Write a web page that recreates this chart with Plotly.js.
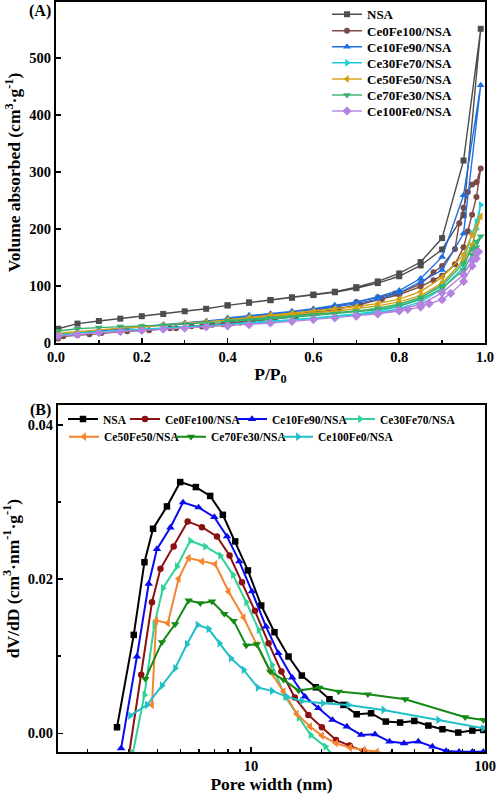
<!DOCTYPE html>
<html>
<head>
<meta charset="utf-8">
<script src="https://cdn.plot.ly/plotly-3.0.1.min.js"></script>
<style>html,body{margin:0;padding:0;background:#fff;}#chart{width:496px;height:795px;}</style>
</head>
<body>
<div id="chart"></div>
<script>
// ---------- DATA ----------
const seriesNames = ['NSA', 'Ce0Fe100/NSA', 'Ce10Fe90/NSA', 'Ce30Fe70/NSA', 'Ce50Fe50/NSA', 'Ce70Fe30/NSA', 'Ce100Fe0/NSA'];

// (A) N2 isotherms: adsorption branch followed by desorption branch
const isoP_NSA = [0.005, 0.05, 0.1, 0.15, 0.2, 0.25, 0.3, 0.35, 0.4, 0.45, 0.5, 0.55, 0.6, 0.65, 0.7, 0.75, 0.8, 0.85, 0.9, 0.95, 0.99,
                  0.95, 0.9, 0.85, 0.8, 0.75, 0.7, 0.65, 0.6, 0.55, 0.5, 0.45, 0.4];
const isoV_NSA = [25, 34, 38.6, 42.7, 47, 51, 55.6, 60, 66, 70.8, 75, 79.5, 84, 89, 96, 105, 117, 136, 164, 224, 551,
                  320, 184, 142, 122, 108, 98, 90, 85, 80, 75.5, 71, 66];

const isoP_Ce0Fe100 = [0.005, 0.017, 0.05, 0.078, 0.106, 0.166, 0.217, 0.266, 0.316, 0.364, 0.412, 0.46, 0.51, 0.56, 0.61, 0.66, 0.71, 0.76, 0.8, 0.85, 0.88, 0.9, 0.93, 0.95, 0.96, 0.97, 0.98, 0.99,
                       0.98, 0.97, 0.96, 0.95, 0.94, 0.93, 0.9, 0.88, 0.85, 0.8, 0.79, 0.75, 0.7, 0.65, 0.6, 0.55, 0.5, 0.45, 0.43, 0.39, 0.34, 0.28];
const isoV_Ce0Fe100 = [7.7, 11.8, 13.5, 15.3, 17.6, 20.5, 22.3, 25.8, 29.3, 32.2, 35.1, 38.5, 42, 47, 53, 60, 68, 77, 85, 99, 110, 118, 138, 168, 196, 225, 256, 306,
                       282, 278, 265, 237, 210, 165, 135, 124, 103, 88, 87, 80, 72, 64, 55, 48, 43, 39, 36, 33, 29, 26];

const isoP_Ce10Fe90 = [0.005, 0.05, 0.1, 0.15, 0.2, 0.25, 0.3, 0.35, 0.4, 0.45, 0.5, 0.55, 0.6, 0.65, 0.7, 0.75, 0.8, 0.85, 0.9, 0.95, 0.99,
                       0.95, 0.9, 0.85, 0.8, 0.75, 0.7, 0.65, 0.6, 0.55, 0.5, 0.45, 0.4];
const isoV_Ce10Fe90 = [14, 18, 21, 25, 28, 32, 35, 38, 42, 46, 50, 54, 58, 63, 69, 77, 88, 107, 128, 192, 452,
                       259, 151, 113, 92, 81, 72, 66, 60, 55.5, 51.5, 48.5, 44];

const isoP_Ce30Fe70 = [0.005, 0.05, 0.1, 0.15, 0.2, 0.25, 0.3, 0.35, 0.4, 0.45, 0.5, 0.55, 0.6, 0.65, 0.7, 0.75, 0.8, 0.85, 0.9, 0.95, 0.97, 0.98, 0.99,
                       0.98, 0.97, 0.95, 0.9, 0.85, 0.8, 0.75, 0.7, 0.65, 0.6, 0.55, 0.5, 0.45, 0.4];
const isoV_Ce30Fe70 = [14, 18, 20, 22, 24, 26, 28, 30, 32, 35, 37, 40, 43, 46, 49, 53, 60, 72, 95, 133, 170, 200, 242,
                       212, 192, 145, 104, 78, 64, 56, 51, 47, 44, 41, 38, 35, 33];

const isoP_Ce50Fe50 = [0.005, 0.05, 0.1, 0.15, 0.2, 0.25, 0.3, 0.35, 0.4, 0.45, 0.5, 0.55, 0.6, 0.65, 0.7, 0.75, 0.8, 0.85, 0.9, 0.95, 0.97, 0.99,
                       0.97, 0.95, 0.9, 0.85, 0.8, 0.75, 0.7, 0.65, 0.6, 0.55, 0.5, 0.45, 0.4];
const isoV_Ce50Fe50 = [17, 20, 23, 26, 28, 31, 34, 37, 40, 43, 46, 49, 52, 56, 60, 65, 72, 83, 105, 145, 172, 222,
                       190, 155, 115, 90, 77, 69, 64, 60, 56, 52, 49, 45, 41];

const isoP_Ce70Fe30 = [0.005, 0.05, 0.1, 0.15, 0.2, 0.25, 0.3, 0.35, 0.4, 0.45, 0.5, 0.55, 0.6, 0.65, 0.7, 0.75, 0.8, 0.85, 0.9, 0.95, 0.97, 0.98, 0.99,
                       0.98, 0.97, 0.95, 0.9, 0.85, 0.8, 0.75, 0.7, 0.6, 0.5, 0.4];
const isoV_Ce70Fe30 = [21, 25, 27, 29, 30, 31, 33, 35, 37, 40, 42, 45, 48, 51, 54, 58, 65, 76, 96, 128, 155, 168, 187,
                       178, 165, 140, 100, 80, 68, 61, 56, 50, 44, 39];

const isoP_Ce100Fe0 = [0.005, 0.05, 0.1, 0.15, 0.2, 0.25, 0.3, 0.35, 0.4, 0.45, 0.5, 0.55, 0.6, 0.65, 0.7, 0.75, 0.8, 0.82, 0.85, 0.87, 0.9, 0.92, 0.95, 0.97, 0.98, 0.985,
                       0.98, 0.97, 0.95, 0.9, 0.85, 0.8, 0.75, 0.7];
const isoV_Ce100Fe0 = [12, 15, 18, 20, 22, 24, 26, 28, 30, 32, 35, 38, 41, 44, 47, 51, 56, 59, 63, 69, 76, 87, 108, 135, 148, 160,
                       158, 145, 120, 88, 68, 58, 52, 48];

// (B) BJH pore size distribution
const poreD_NSA = [2.68, 3.16, 3.51, 3.82, 4.38, 4.99, 5.82, 6.70, 7.59, 8.57, 9.71, 11.07, 12.61, 14.48, 16.51, 18.94, 21.66, 24.85, 28.3, 32.6, 37.7, 43.4, 49.9, 57.3, 65.8, 76.9, 88.3, 98.4];
const poreV_NSA = [0.00078, 0.01277, 0.0222, 0.02654, 0.02944, 0.0326, 0.03195, 0.0308, 0.02835, 0.0249, 0.02113, 0.01658, 0.01312, 0.00996, 0.00749, 0.00597, 0.00442, 0.00368, 0.00247, 0.0026, 0.00152, 0.00139, 0.0016, 0.001, 0.00052, 0.00009, 0.00035, 0.00043];

const poreD_Ce0Fe100 = [2.99, 3.40, 3.78, 4.11, 4.68, 5.37, 6.18, 7.16, 8.11, 9.16, 10.4, 11.9, 13.5, 15.4, 17.6, 20.1, 23.1, 26.4, 30.3, 34.5];
const poreV_Ce0Fe100 = [-0.0035, 0.00758, 0.017, 0.02134, 0.02424, 0.02749, 0.02675, 0.02554, 0.02307, 0.01961, 0.01589, 0.01169, 0.00801, 0.00463, 0.00238, 0.00078, -0.00087, -0.0016, -0.0023, -0.003];

const poreD_Ce10Fe90 = [2.79, 3.26, 3.66, 3.97, 4.53, 5.13, 5.98, 6.98, 7.91, 8.92, 10.1, 11.6, 13.1, 15.0, 17.0, 19.4, 22.3, 25.7, 29.6, 33.9, 39.1, 45.1, 51.9, 59.6, 68.2, 77.5, 88.3, 98.4];
const poreV_Ce10Fe90 = [-0.00195, 0.00996, 0.0194, 0.0239, 0.0267, 0.02996, 0.0293, 0.02805, 0.02554, 0.0223, 0.0184, 0.01385, 0.01039, 0.00723, 0.00476, 0.00325, 0.00173, 0.00087, -0.00022, -0.00013, -0.00108, -0.0013, -0.00108, -0.00173, -0.0023, -0.0024, -0.0024, -0.0024];

const poreD_Ce30Fe70 = [3.13, 3.51, 3.87, 4.21, 4.83, 5.51, 6.38, 7.40, 8.38, 9.55, 10.8, 12.3, 14.0, 16.0, 18.0, 20.8, 23.0];
const poreV_Ce30Fe70 = [-0.0026, 0.00498, 0.01407, 0.01883, 0.02165, 0.02498, 0.02424, 0.02307, 0.02056, 0.01701, 0.01342, 0.00887, 0.00476, 0.00203, -0.00022, -0.00173, -0.0032];

const poreD_Ce50Fe50 = [3.78, 3.94, 4.42, 4.91, 5.42, 6.18, 7.04, 8.03, 9.31, 10.6, 12.1, 13.8, 15.7, 17.9, 20.1, 23.1, 26.5, 30.3, 34.5, 39.0];
const poreV_Ce50Fe50 = [0.00368, 0.01463, 0.01429, 0.02004, 0.02273, 0.02229, 0.02195, 0.0184, 0.01502, 0.01147, 0.00801, 0.00541, 0.00251, 0.00087, -0.0003, -0.0013, -0.00186, -0.00216, -0.0024, -0.0028];

const poreD_Ce70Fe30 = [3.54, 4.17, 4.75, 5.42, 6.08, 6.82, 7.70, 8.44, 9.55, 10.6, 12.1, 13.8, 16.0, 19.6, 23.7, 31.6, 45.6, 82.3, 98.4];
const poreV_Ce70Fe30 = [0.00706, 0.01182, 0.01416, 0.01723, 0.01688, 0.0171, 0.0155, 0.01459, 0.01139, 0.01156, 0.00801, 0.00693, 0.00554, 0.00593, 0.00541, 0.00506, 0.00442, 0.00208, 0.00173];

const poreD_Ce100Fe0 = [3.05, 3.60, 4.17, 4.75, 5.33, 5.92, 6.59, 7.34, 8.22, 9.31, 10.7, 12.3, 14.2, 16.5, 20.3, 26.1, 36.8, 63.2, 98.4];
const poreV_Ce100Fe0 = [0.00229, 0.00368, 0.00619, 0.00844, 0.01156, 0.01407, 0.01355, 0.01169, 0.00974, 0.00823, 0.00593, 0.0055, 0.00476, 0.0042, 0.0039, 0.00368, 0.00303, 0.00173, 0.00065];

const isoX = [isoP_NSA, isoP_Ce0Fe100, isoP_Ce10Fe90, isoP_Ce30Fe70, isoP_Ce50Fe50, isoP_Ce70Fe30, isoP_Ce100Fe0];
const isoY = [isoV_NSA, isoV_Ce0Fe100, isoV_Ce10Fe90, isoV_Ce30Fe70, isoV_Ce50Fe50, isoV_Ce70Fe30, isoV_Ce100Fe0];
const poreX = [poreD_NSA, poreD_Ce0Fe100, poreD_Ce10Fe90, poreD_Ce30Fe70, poreD_Ce50Fe50, poreD_Ce70Fe30, poreD_Ce100Fe0];
const poreY = [poreV_NSA, poreV_Ce0Fe100, poreV_Ce10Fe90, poreV_Ce30Fe70, poreV_Ce50Fe50, poreV_Ce70Fe30, poreV_Ce100Fe0];

// ---------- STYLE ----------
const colorsA = ['#4d4d4d', '#7b4a46', '#1f6fe3', '#19cfd9', '#d4a010', '#38b06e', '#b483e0'];
const symbolsA = ['square', 'circle', 'triangle-up', 'triangle-right', 'triangle-left', 'triangle-down', 'diamond'];
const colorsB = ['#000000', '#8b1010', '#0a0af0', '#2fd39a', '#f5842e', '#168a16', '#22bfc9'];
const symbolsB = ['square', 'circle', 'triangle-up', 'triangle-right', 'triangle-left', 'triangle-down', 'triangle-right'];

const W = 496, H = 795;
const FONT = 'Liberation Serif, Times New Roman, serif';

// legend placements in pixels (text start x, item centre y)
const legA = [[367, 14.3], [367, 30.7], [367, 46.7], [367, 62.7], [367, 79], [367, 95], [367, 111]];
const legB = [[103, 419], [165, 419], [272, 419], [380, 419], [104, 436.7], [211, 436.7], [318, 436.7]];

const traces = [];
const layout = {
  width: W, height: H,
  margin: {l: 0, r: 0, t: 0, b: 0, autoexpand: false},
  paper_bgcolor: '#fff', plot_bgcolor: '#fff',
  font: {family: FONT, size: 14.5, color: '#000', weight: 'bold'},
  showlegend: true,
  xaxis: {
    domain: [56 / W, 485 / W], anchor: 'y', range: [0, 1], tick0: 0, dtick: 0.2, tickformat: '.1f',
    ticks: 'inside', ticklen: 5, tickwidth: 1.5, tickcolor: '#000',
    minor: {dtick: 0.1, ticks: 'inside', ticklen: 3, tickwidth: 1.5, tickcolor: '#000'},
    showline: true, mirror: true, linewidth: 2, linecolor: '#000', showgrid: false, zeroline: false,
    tickfont: {size: 14.5, family: FONT, weight: 'bold'},
    title: {text: 'P/P<sub>0</sub>', font: {size: 17.5, family: FONT, weight: 'bold'}, standoff: 3}
  },
  yaxis: {
    domain: [1 - 343 / H, 1 - 2 / H], anchor: 'x', range: [0, 598], tick0: 0, dtick: 100,
    ticks: 'inside', ticklen: 5, tickwidth: 1.5, tickcolor: '#000',
    showline: true, mirror: true, linewidth: 2, linecolor: '#000', showgrid: false, zeroline: false,
    tickfont: {size: 14.5, family: FONT, weight: 'bold'},
    title: {text: 'Volume absorbed (cm<sup>3</sup>·g<sup>-1</sup>)', font: {size: 17.5, family: FONT, weight: 'bold'}, standoff: 4}
  },
  xaxis2: {
    domain: [58 / W, 485 / W], anchor: 'y2', type: 'log', range: [Math.log10(1.5), 2],
    tickmode: 'array', tickvals: [10, 100], ticktext: ['10', '100'],
    ticks: 'inside', ticklen: 5, tickwidth: 1.5, tickcolor: '#000',
    minor: {tickmode: 'array', tickvals: [2, 3, 4, 5, 6, 7, 8, 9, 20, 30, 40, 50, 60, 70, 80, 90], ticks: 'inside', ticklen: 3, tickwidth: 1.5, tickcolor: '#000'},
    showline: true, mirror: true, linewidth: 2, linecolor: '#000', showgrid: false, zeroline: false,
    tickfont: {size: 14.5, family: FONT, weight: 'bold'},
    title: {text: 'Pore width (nm)', font: {size: 17.5, family: FONT, weight: 'bold'}, standoff: 3}
  },
  yaxis2: {
    domain: [1 - 752 / H, 1 - 405 / H], anchor: 'x2', range: [-0.00243, 0.0426], tick0: 0, dtick: 0.02, tickformat: '.2f',
    ticks: 'inside', ticklen: 5, tickwidth: 1.5, tickcolor: '#000',
    minor: {dtick: 0.01, ticks: 'inside', ticklen: 3, tickwidth: 1.5, tickcolor: '#000'},
    showline: true, mirror: true, linewidth: 2, linecolor: '#000', showgrid: false, zeroline: false,
    tickfont: {size: 14.5, family: FONT, weight: 'bold'},
    title: {text: 'dV/dD (cm<sup>3</sup>·nm<sup>-1</sup>·g<sup>-1</sup>)', font: {size: 17.5, family: FONT, weight: 'bold'}, standoff: 4}
  },
  annotations: [
    {text: '(A)', xref: 'paper', yref: 'paper', x: 53 / W, y: 1 - 11 / H, xanchor: 'right', yanchor: 'middle', showarrow: false,
     font: {size: 16, family: FONT, weight: 'bold'}},
    {text: '(B)', xref: 'paper', yref: 'paper', x: 53 / W, y: 1 - 410 / H, xanchor: 'right', yanchor: 'middle', showarrow: false,
     font: {size: 16, family: FONT, weight: 'bold'}}
  ]
};

function legendId(k) { return k === 0 ? 'legend' : 'legend' + (k + 1); }

for (let i = 0; i < seriesNames.length; i++) {
  const id = legendId(i);
  traces.push({
    type: 'scatter', mode: 'lines+markers', name: seriesNames[i], x: isoX[i], y: isoY[i],
    xaxis: 'x', yaxis: 'y', legend: id,
    line: {color: colorsA[i], width: 1.4},
    marker: {color: colorsA[i], symbol: symbolsA[i], size: symbolsA[i] === 'circle' || symbolsA[i] === 'square' ? 6 : 7, line: {width: 0}}
  });
  layout[id] = {
    x: (legA[i][0] - 40) / W, y: 1 - (legA[i][1] - 14.95) / H, xanchor: 'left', yanchor: 'top',
    bgcolor: 'rgba(0,0,0,0)', borderwidth: 0, font: {size: 13, family: FONT, weight: 'bold', color: '#000'}
  };
}
for (let i = 0; i < seriesNames.length; i++) {
  const id = legendId(i + 7);
  traces.push({
    type: 'scatter', mode: 'lines+markers', name: seriesNames[i], x: poreX[i], y: poreY[i],
    xaxis: 'x2', yaxis: 'y2', legend: id,
    line: {color: colorsB[i], width: 2},
    marker: {color: colorsB[i], symbol: symbolsB[i], size: symbolsB[i] === 'circle' || symbolsB[i] === 'square' ? 6.5 : 7.5, line: {width: 0}}
  });
  layout[id] = {
    x: (legB[i][0] - 40) / W, y: 1 - (legB[i][1] - 14.5) / H, xanchor: 'left', yanchor: 'top',
    bgcolor: 'rgba(0,0,0,0)', borderwidth: 0, font: {size: 11.5, family: FONT, weight: 'bold', color: '#000'}
  };
}

Plotly.newPlot('chart', traces, layout, {staticPlot: true, displayModeBar: false});
</script>
</body>
</html>
